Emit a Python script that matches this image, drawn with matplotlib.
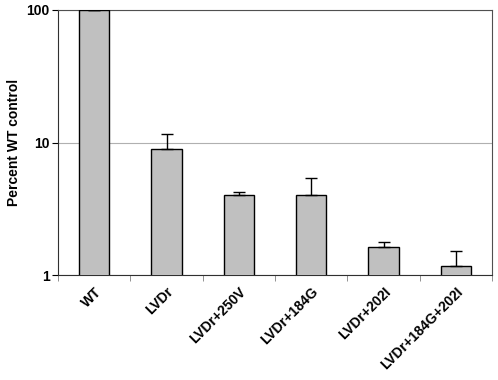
import numpy as np
import matplotlib.pyplot as plt
from matplotlib.ticker import FixedLocator, NullLocator

plt.rcParams['font.family'] = ['Liberation Sans', 'DejaVu Sans']

categories = ['WT', 'LVDr', 'LVDr+250V', 'LVDr+184G', 'LVDr+202I', 'LVDr+184G+202I']
values = [100, 8.9, 4.0, 4.0, 1.63, 1.17]
err_up = [0, 2.7, 0.2, 1.4, 0.14, 0.35]

fig = plt.figure(figsize=(4.98, 3.8), dpi=100)
ax = fig.add_axes([0.1165, 0.276, 0.8715, 0.698])

x = np.arange(len(categories))
ax.bar(x, values, width=0.42, color='#c0c0c0', edgecolor='black', linewidth=1.0, zorder=3)
ax.errorbar(x, values, yerr=[np.zeros(len(err_up)), err_up], fmt='none',
            ecolor='black', elinewidth=1.0, capsize=4, capthick=1.0, zorder=4)

ax.set_yscale('log')
ax.set_ylim(1, 100)
ax.set_xlim(-0.5, len(categories) - 0.5)
ax.yaxis.set_major_locator(FixedLocator([1, 10, 100]))
ax.yaxis.set_minor_locator(NullLocator())
ax.set_yticklabels(['1', '10', '100'], fontsize=10, fontweight='bold')
ax.grid(axis='y', which='major', color='#b0b0b0', linewidth=0.8, zorder=0)

ax.set_xticks(x)
ax.set_xticklabels(categories, rotation=45, ha='right', rotation_mode='anchor',
                   fontsize=10, fontweight='bold')
ax.xaxis.set_minor_locator(FixedLocator(np.arange(len(categories) + 1) - 0.5))
ax.tick_params(axis='x', which='major', length=0, pad=7)
ax.tick_params(axis='x', which='minor', length=4, color='#808080')
ax.tick_params(axis='y', length=4, direction='out', pad=2)

ax.set_ylabel('Percent WT control', fontsize=10, fontweight='bold')

for s in ['top', 'right']:
    ax.spines[s].set_color('#505050')
for s in ['left', 'bottom']:
    ax.spines[s].set_color('#303030')

fig.savefig('out.png', dpi=100)
